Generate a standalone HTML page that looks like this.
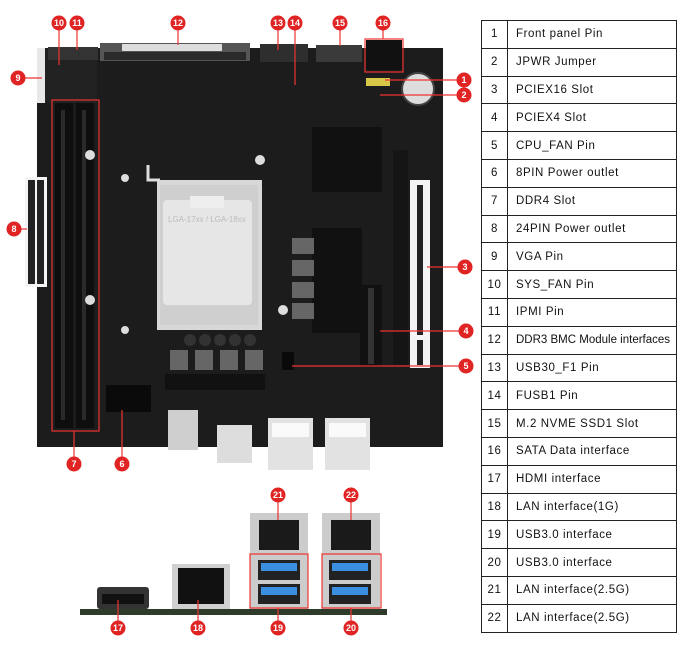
<!DOCTYPE html>
<html><head><meta charset="utf-8"><style>
html,body{margin:0;padding:0;background:#fff;width:692px;height:648px;overflow:hidden}
svg{position:absolute;left:0;top:0}
table{position:absolute;left:481px;top:20px;width:196px;border-collapse:collapse;font-family:"Liberation Sans",sans-serif;font-size:11.5px;letter-spacing:0.6px;color:#111}
td{border:1.5px solid #222;height:26.8px;padding:0}
td.n{width:25px;text-align:center}
td.t{padding-left:8px;white-space:nowrap}
</style></head><body>
<svg width="692" height="648" viewBox="0 0 692 648" font-family="Liberation Sans,sans-serif">
<path d="M37 48 H443 V447 H37 Z" fill="#1c1c1c"/>
<rect x="37" y="48" width="60" height="55" fill="#222"/>
<rect x="37" y="48" width="8" height="55" fill="#e8e8e8"/>
<rect x="48" y="47" width="50" height="13" fill="#333"/>
<rect x="100" y="43" width="150" height="18" fill="#555"/>
<rect x="104" y="52" width="142" height="8" fill="#2a2a2a"/>
<rect x="122" y="44" width="100" height="7" fill="#ddd"/>
<rect x="260" y="44" width="48" height="18" fill="#2e2e2e"/>
<rect x="316" y="45" width="46" height="17" fill="#3a3a3a"/>
<rect x="366" y="40" width="36" height="30" fill="#111"/>
<circle cx="418" cy="89" r="16" fill="#ddd" stroke="#444" stroke-width="2"/>
<rect x="366" y="78" width="24" height="8" fill="#d8c848"/>
<rect x="25" y="177" width="22" height="110" fill="#f4f4f4"/>
<g fill="#222"><rect x="28" y="180" width="7" height="104"/><rect x="37" y="180" width="7" height="104"/></g>
<rect x="55" y="103" width="18" height="325" fill="#0e0e0e"/>
<rect x="76" y="103" width="18" height="325" fill="#0e0e0e"/>
<rect x="61" y="110" width="4" height="310" fill="#2a2a2a"/>
<rect x="82" y="110" width="4" height="310" fill="#2a2a2a"/>
<rect x="52" y="100" width="47" height="331" fill="none" stroke="#e33" stroke-width="1.2"/>
<rect x="312" y="127" width="70" height="65" fill="#111"/>
<rect x="157" y="180" width="105" height="150" fill="#d8d8d8"/>
<rect x="160" y="185" width="98" height="140" fill="#cfcfcf"/>
<rect x="163" y="200" width="89" height="105" rx="4" fill="#e6e6e6"/>
<rect x="190" y="196" width="34" height="12" fill="#eee"/>
<text x="168" y="222" font-size="8" fill="#bbb">LGA-17xx / LGA-18xx</text>
<path d="M148 165 V180 H160" stroke="#ddd" stroke-width="3" fill="none"/>
<rect x="312" y="228" width="50" height="105" fill="#111"/>
<g fill="#666"><rect x="292" y="238" width="22" height="16"/><rect x="292" y="260" width="22" height="16"/><rect x="292" y="282" width="22" height="16"/><rect x="292" y="303" width="22" height="16"/></g>
<rect x="165" y="374" width="100" height="16" fill="#111"/>
<g fill="#666"><rect x="170" y="350" width="18" height="20"/><rect x="195" y="350" width="18" height="20"/><rect x="220" y="350" width="18" height="20"/><rect x="245" y="350" width="18" height="20"/></g>
<g fill="#333"><circle cx="190" cy="340" r="6"/><circle cx="205" cy="340" r="6"/><circle cx="220" cy="340" r="6"/><circle cx="235" cy="340" r="6"/><circle cx="250" cy="340" r="6"/></g>
<rect x="410" y="180" width="20" height="188" fill="#f4f4f4"/>
<rect x="417" y="185" width="6" height="150" fill="#222"/>
<rect x="417" y="340" width="6" height="25" fill="#222"/>
<rect x="360" y="285" width="22" height="82" fill="#111"/>
<rect x="368" y="288" width="6" height="76" fill="#333"/>
<rect x="393" y="150" width="15" height="215" fill="#151515"/>
<rect x="106" y="385" width="45" height="27" fill="#0a0a0a"/>
<rect x="282" y="352" width="12" height="18" fill="#0a0a0a"/>
<rect x="168" y="410" width="30" height="40" fill="#cfcfcf"/>
<rect x="217" y="425" width="35" height="38" fill="#ddd"/>
<rect x="268" y="418" width="45" height="62" fill="#e2e2e2"/>
<rect x="325" y="418" width="45" height="62" fill="#e2e2e2"/>
<rect x="272" y="423" width="37" height="14" fill="#fafafa"/>
<rect x="329" y="423" width="37" height="14" fill="#fafafa"/>
<rect x="265" y="470" width="110" height="12" fill="#fff"/>
<g fill="#ddd"><circle cx="90" cy="155" r="5"/><circle cx="260" cy="160" r="5"/><circle cx="90" cy="300" r="5"/><circle cx="283" cy="310" r="5"/><circle cx="125" cy="178" r="4"/><circle cx="125" cy="330" r="4"/></g>
<rect x="365" y="39" width="38" height="33" fill="none" stroke="#e33" stroke-width="1.2"/>
<rect x="80" y="609" width="307" height="6" fill="#2e3a2a"/>
<rect x="97" y="587" width="52" height="22" rx="3" fill="#333"/>
<rect x="102" y="594" width="42" height="10" fill="#111"/>
<rect x="172" y="564" width="58" height="45" fill="#d0d0d0"/>
<rect x="178" y="568" width="46" height="36" fill="#111"/>
<g fill="#ccc"><rect x="250" y="513" width="58" height="40"/><rect x="322" y="513" width="58" height="40"/><rect x="250" y="553" width="58" height="56"/><rect x="322" y="553" width="58" height="56"/></g>
<g fill="#1a1a1a"><rect x="259" y="520" width="40" height="30"/><rect x="331" y="520" width="40" height="30"/></g>
<g fill="#222"><rect x="258" y="560" width="42" height="20"/><rect x="258" y="584" width="42" height="20"/><rect x="329" y="560" width="42" height="20"/><rect x="329" y="584" width="42" height="20"/></g>
<g fill="#3b8fe0"><rect x="261" y="563" width="36" height="8"/><rect x="261" y="587" width="36" height="8"/><rect x="332" y="563" width="36" height="8"/><rect x="332" y="587" width="36" height="8"/></g>
<rect x="250" y="554" width="58" height="54" fill="none" stroke="#e33" stroke-width="1.2"/>
<rect x="322" y="554" width="59" height="54" fill="none" stroke="#e33" stroke-width="1.2"/>
<g stroke="#e33" stroke-width="1.2" fill="none">
<path d="M59 23 V65"/><path d="M77 23 V50"/><path d="M178 23 V45"/><path d="M278 23 V50"/><path d="M295 23 V85"/><path d="M340 23 V46"/><path d="M383 23 V39"/>
<path d="M18 78 H42"/><path d="M14 229 H27"/>
<path d="M464 80 H385"/><path d="M464 95 H380"/><path d="M465 267 H427"/><path d="M466 331 H380"/><path d="M466 366 H292"/>
<path d="M74 464 V431"/><path d="M122 464 V410"/>
<path d="M278 495 V520"/><path d="M351 495 V520"/>
<path d="M118 628 V600"/><path d="M198 628 V600"/><path d="M278 628 V608"/><path d="M351 628 V608"/>
</g>
<g fill="#e02424">
<circle cx="59" cy="23" r="7.5"/><circle cx="77" cy="23" r="7.5"/><circle cx="178" cy="23" r="7.5"/><circle cx="278" cy="23" r="7.5"/><circle cx="295" cy="23" r="7.5"/><circle cx="340" cy="23" r="7.5"/><circle cx="383" cy="23" r="7.5"/>
<circle cx="18" cy="78" r="7.5"/><circle cx="14" cy="229" r="7.5"/>
<circle cx="464" cy="80" r="7.5"/><circle cx="464" cy="95" r="7.5"/><circle cx="465" cy="267" r="7.5"/><circle cx="466" cy="331" r="7.5"/><circle cx="466" cy="366" r="7.5"/>
<circle cx="74" cy="464" r="7.5"/><circle cx="122" cy="464" r="7.5"/>
<circle cx="278" cy="495" r="7.5"/><circle cx="351" cy="495" r="7.5"/>
<circle cx="118" cy="628" r="7.5"/><circle cx="198" cy="628" r="7.5"/><circle cx="278" cy="628" r="7.5"/><circle cx="351" cy="628" r="7.5"/>
</g>
<g fill="#fff" font-size="9" font-weight="bold" text-anchor="middle">
<text x="59" y="26">10</text><text x="77" y="26">11</text><text x="178" y="26">12</text><text x="278" y="26">13</text><text x="295" y="26">14</text><text x="340" y="26">15</text><text x="383" y="26">16</text>
<text x="18" y="81">9</text><text x="14" y="232">8</text>
<text x="464" y="83">1</text><text x="464" y="98">2</text><text x="465" y="270">3</text><text x="466" y="334">4</text><text x="466" y="369">5</text>
<text x="74" y="467">7</text><text x="122" y="467">6</text>
<text x="278" y="498">21</text><text x="351" y="498">22</text>
<text x="118" y="631">17</text><text x="198" y="631">18</text><text x="278" y="631">19</text><text x="351" y="631">20</text>
</g>
</svg>
<table>
<tr><td class="n">1</td><td class="t">Front panel Pin</td></tr>
<tr><td class="n">2</td><td class="t">JPWR Jumper</td></tr>
<tr><td class="n">3</td><td class="t">PCIEX16 Slot</td></tr>
<tr><td class="n">4</td><td class="t">PCIEX4 Slot</td></tr>
<tr><td class="n">5</td><td class="t">CPU_FAN Pin</td></tr>
<tr><td class="n">6</td><td class="t">8PIN Power outlet</td></tr>
<tr><td class="n">7</td><td class="t">DDR4 Slot</td></tr>
<tr><td class="n">8</td><td class="t">24PIN Power outlet</td></tr>
<tr><td class="n">9</td><td class="t">VGA Pin</td></tr>
<tr><td class="n">10</td><td class="t">SYS_FAN Pin</td></tr>
<tr><td class="n">11</td><td class="t">IPMI Pin</td></tr>
<tr><td class="n">12</td><td class="t" style="letter-spacing:0">DDR3 BMC Module interfaces</td></tr>
<tr><td class="n">13</td><td class="t">USB30_F1 Pin</td></tr>
<tr><td class="n">14</td><td class="t">FUSB1 Pin</td></tr>
<tr><td class="n">15</td><td class="t">M.2 NVME SSD1 Slot</td></tr>
<tr><td class="n">16</td><td class="t">SATA Data interface</td></tr>
<tr><td class="n">17</td><td class="t">HDMI interface</td></tr>
<tr><td class="n">18</td><td class="t">LAN interface(1G)</td></tr>
<tr><td class="n">19</td><td class="t">USB3.0 interface</td></tr>
<tr><td class="n">20</td><td class="t">USB3.0 interface</td></tr>
<tr><td class="n">21</td><td class="t">LAN interface(2.5G)</td></tr>
<tr><td class="n">22</td><td class="t">LAN interface(2.5G)</td></tr>
</table>
</body></html>
